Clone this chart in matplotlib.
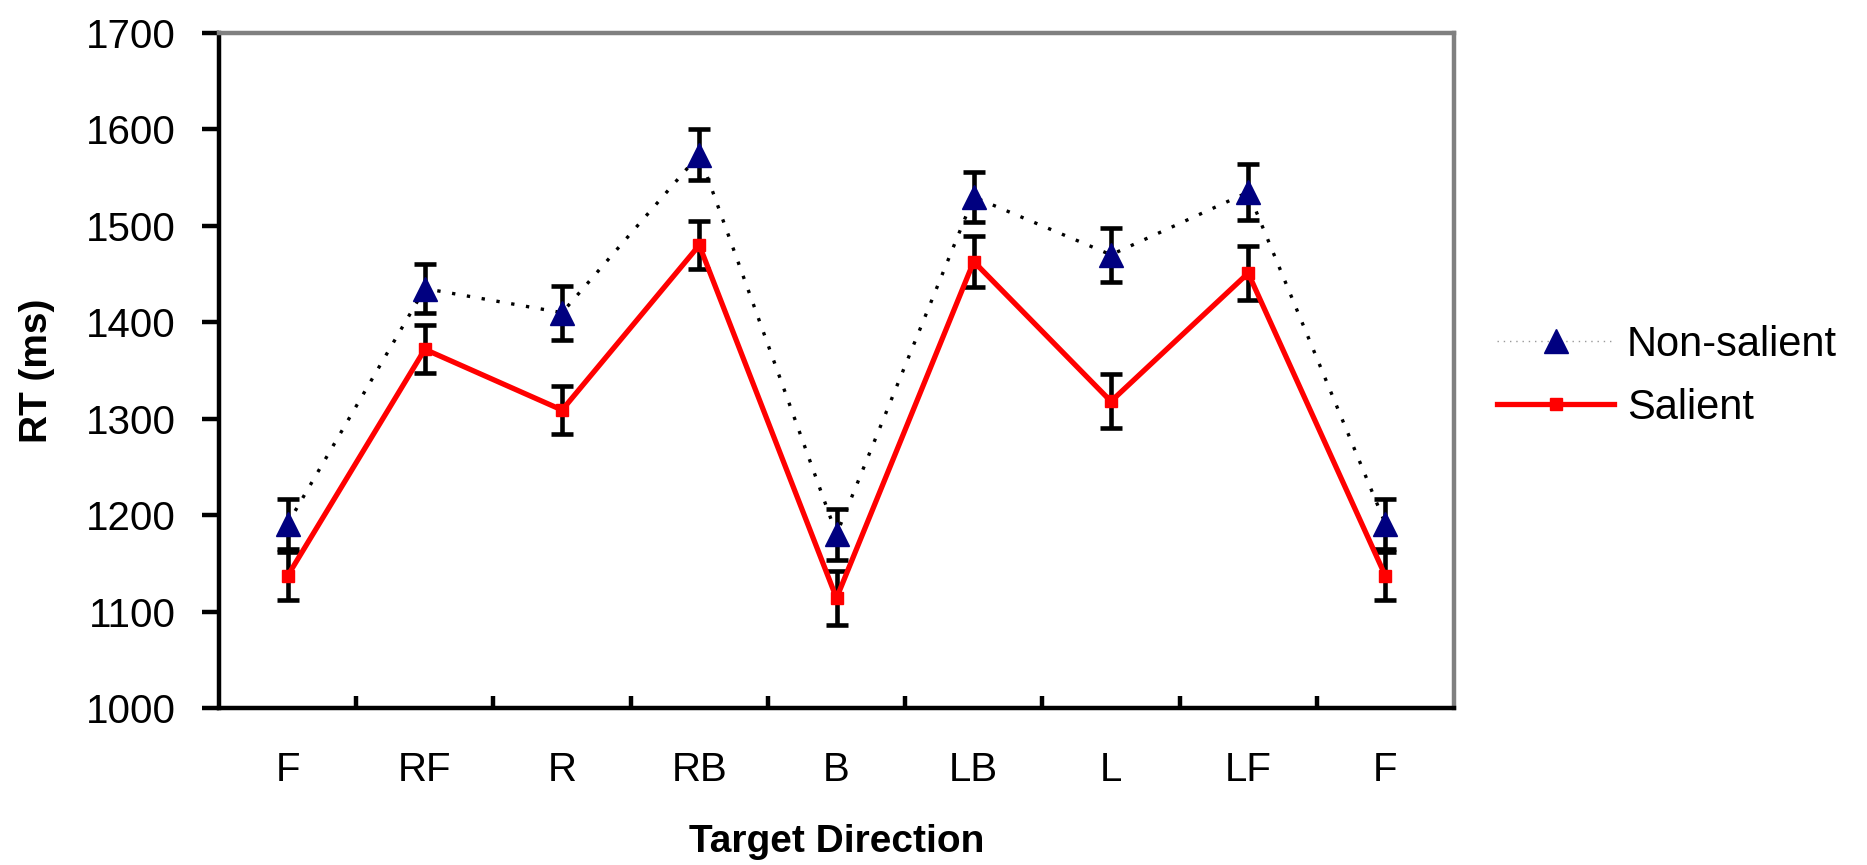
import matplotlib
matplotlib.use("Agg")
import matplotlib.pyplot as plt
import numpy as np

categories = ["F", "RF", "R", "RB", "B", "LB", "L", "LF", "F"]
non_salient = [1191, 1435, 1410, 1574, 1180, 1530, 1470, 1535, 1191]
non_salient_err = [26, 25, 28, 26, 26, 26, 28, 29, 26]
salient = [1137, 1372, 1309, 1480, 1114, 1463, 1318, 1451, 1137]
salient_err = [25, 25, 25, 25, 28, 26, 28, 28, 25]
yticks = [1000, 1100, 1200, 1300, 1400, 1500, 1600, 1700]

plt.rcParams['font.family'] = ['Liberation Sans', 'DejaVu Sans']

fig = plt.figure(figsize=(18.67, 8.65), dpi=100)
ax = fig.add_axes([0.1173, 0.1815, 0.7788 - 0.1173, 0.9618 - 0.1815])

x = np.arange(len(categories))

ax.errorbar(x, non_salient, yerr=non_salient_err, fmt='none', ecolor='black',
            elinewidth=3.3, capsize=8, capthick=3.3, zorder=2)
ax.errorbar(x, salient, yerr=salient_err, fmt='none', ecolor='black',
            elinewidth=3.3, capsize=8, capthick=3.3, zorder=2)

ax.plot(x, non_salient, color='black', linestyle=(0, (1, 3.5)), linewidth=2.4,
        marker='^', markersize=17, markerfacecolor='#000080', markeredgecolor='#000080',
        label='Non-salient', zorder=3)
ax.plot(x, salient, color='#ff0000', linestyle='-', linewidth=3.8,
        marker='s', markersize=8, markerfacecolor='#ff0000', markeredgecolor='#ff0000',
        label='Salient', zorder=4)

ax.set_xlim(-0.5, len(categories) - 0.5)
ax.set_ylim(1000, 1700)
ax.set_yticks(yticks)
ax.set_xticks(x)
ax.set_xticklabels(categories)
ax.set_xticks(np.arange(0.5, len(categories) - 0.5, 1.0), minor=True)

ax.tick_params(axis='y', direction='out', length=12, width=3.2, labelsize=29, pad=19)
ax.tick_params(axis='x', which='major', length=0, labelsize=29, pad=31)
ax.tick_params(axis='x', which='minor', direction='in', length=9, width=3.2)

for side in ['left', 'bottom']:
    ax.spines[side].set_color('black')
    ax.spines[side].set_linewidth(3.2)
for side in ['top', 'right']:
    ax.spines[side].set_color('#808080')
    ax.spines[side].set_linewidth(3.2)

ax.set_ylabel('RT (ms)', fontsize=28, fontweight='bold', labelpad=22)
ax.set_xlabel('Target Direction', fontsize=28, fontweight='bold', labelpad=25)

leg = fig.legend(loc='center left', bbox_to_anchor=(0.782, 0.565), frameon=False,
                 fontsize=30, handlelength=2.8, handletextpad=0.3, labelspacing=0.55)
leg.get_lines()[0].set_linewidth(1.0)
leg.get_lines()[0].set_color('#999999')

fig.savefig('out.png', dpi=100)
